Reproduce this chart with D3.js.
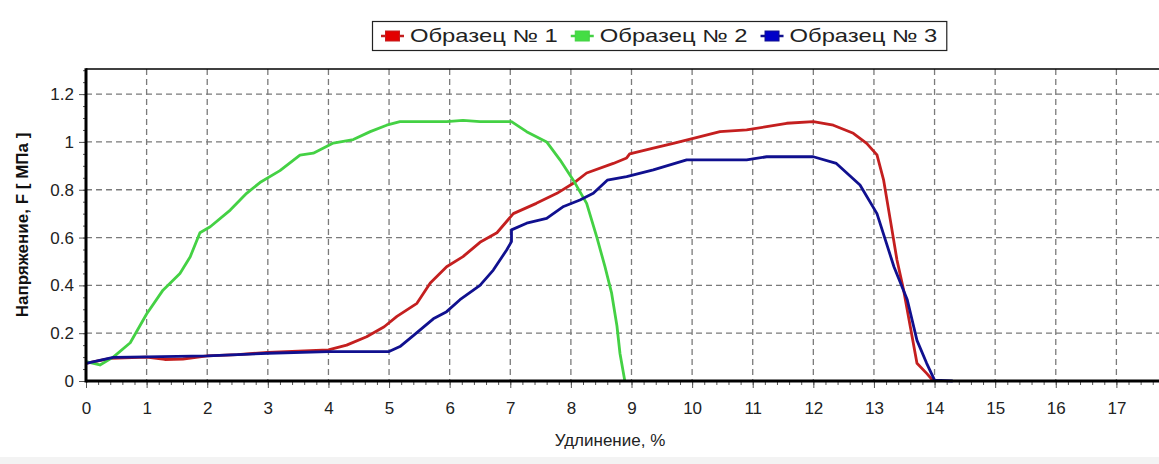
<!DOCTYPE html>
<meta charset="utf-8">
<style>
body { margin: 0; background: #fff; }
text { font-family: "Liberation Sans", Arial, sans-serif; }
.grid line { stroke: #7a7a7a; stroke-width: 1.3; stroke-dasharray: 6,4; }
.series { fill: none; stroke-width: 2.8; stroke-linejoin: round; }
</style>
<svg width="1159" height="464"></svg>
<script src="https://cdn.jsdelivr.net/npm/d3@7"></script>
<script>

var names = ["Образец № 1", "Образец № 2", "Образец № 3"];
var lineColors = ["#c41f1f", "#44d144", "#10108f"];
var markColors = ["#e30000", "#44dd44", "#0000c8"];

var xTicks = d3.range(0, 18);
var yTicks = [0, 0.2, 0.4, 0.6, 0.8, 1, 1.2];

// [удлинение %, напряжение МПа]
var sample1 = [[0,0.074],[0.4,0.095],[1,0.1],[1.3,0.09],[1.6,0.092],[2,0.105],[2.5,0.11],[3,0.12],[3.5,0.125],[4,0.13],
  [4.3,0.15],[4.63,0.185],[4.92,0.227],[5.13,0.27],[5.46,0.325],[5.68,0.41],[5.95,0.478],[6.22,0.52],[6.5,0.58],
  [6.78,0.62],[7.05,0.70],[7.43,0.743],[7.77,0.785],[8.04,0.827],[8.26,0.87],[8.7,0.91],[8.92,0.933],[8.97,0.95],
  [9.36,0.974],[9.69,0.994],[10.02,1.015],[10.46,1.043],[10.9,1.05],[11.23,1.064],[11.56,1.078],[12.0,1.085],
  [12.33,1.07],[12.66,1.036],[12.88,0.994],[13.05,0.946],[13.16,0.84],[13.27,0.674],[13.38,0.506],[13.49,0.38],
  [13.6,0.227],[13.71,0.074],[13.87,0.032],[13.98,0]];

var sample2 = [[0,0.081],[0.23,0.067],[0.45,0.10],[0.73,0.16],[1.0,0.28],[1.27,0.38],[1.55,0.45],[1.72,0.52],[1.88,0.62],
  [2.05,0.645],[2.38,0.715],[2.65,0.785],[2.87,0.83],[3.2,0.88],[3.53,0.945],[3.75,0.953],[4.08,0.995],[4.41,1.01],
  [4.69,1.043],[4.96,1.07],[5.18,1.085],[5.95,1.085],[6.22,1.09],[6.5,1.085],[7.02,1.085],[7.27,1.043],[7.6,1.0],
  [7.82,0.925],[8.04,0.84],[8.26,0.743],[8.43,0.60],[8.56,0.48],[8.67,0.37],[8.76,0.23],[8.81,0.115],[8.89,0]];

var sample3 = [[0,0.074],[0.45,0.099],[0.73,0.1],[1.5,0.103],[2,0.105],[3,0.116],[4,0.123],[5,0.123],[5.18,0.144],
  [5.4,0.19],[5.73,0.26],[5.95,0.29],[6.17,0.34],[6.5,0.40],[6.72,0.464],[6.94,0.548],[7.02,0.583],[7.02,0.632],
  [7.27,0.66],[7.6,0.68],[7.88,0.73],[8.15,0.757],[8.37,0.785],[8.6,0.84],[8.92,0.855],[9.36,0.883],[9.91,0.925],
  [10.9,0.925],[11.23,0.938],[12.0,0.938],[12.38,0.91],[12.77,0.82],[13.05,0.70],[13.33,0.478],[13.55,0.34],
  [13.71,0.17],[13.87,0.074],[14.0,0.004],[14.3,0]];

var series = [sample1, sample2, sample3];

var svg = d3.select("svg");

var pLeft = 86, pTop = 69, pBottom = 381, pRight = 1177;

var x = d3.scaleLinear().domain([0, 18]).range([pLeft, pRight]);
var y = d3.scaleLinear().domain([0, 1.305]).range([pBottom, pTop]);

var fontFamily = "'Liberation Sans', Arial, sans-serif";

// faint strip at the bottom of the window
svg.append("rect").attr("x", 0).attr("y", 457).attr("width", 1159).attr("height", 7).attr("fill", "#f3f3f3");

// grid
var grid = svg.append("g").attr("class", "grid");
grid.selectAll(".v").data(xTicks.slice(1)).enter().append("line")
    .attr("x1", function(d) { return x(d); }).attr("x2", function(d) { return x(d); })
    .attr("y1", pTop).attr("y2", pBottom);
grid.selectAll(".h").data(yTicks.slice(1)).enter().append("line")
    .attr("x1", pLeft).attr("x2", pRight)
    .attr("y1", function(d) { return y(d); }).attr("y2", function(d) { return y(d); });

// top border
svg.append("line").attr("x1", pLeft).attr("x2", pRight).attr("y1", pTop).attr("y2", pTop)
    .attr("stroke", "#000").attr("stroke-width", 1.5);

// curves
var line = d3.line().x(function(d) { return x(d[0]); }).y(function(d) { return y(d[1]); });
svg.selectAll(".series").data(series).enter().append("path")
    .attr("class", "series")
    .attr("stroke", function(d, i) { return lineColors[i]; })
    .attr("d", line);

// axes: minor ticks first, then major with labels
svg.append("g").attr("transform", "translate(0," + pBottom + ")")
    .call(d3.axisBottom(x).tickValues(d3.range(0, 18.01, 0.2)).tickSize(4).tickFormat(""))
    .call(function(g) { g.select(".domain").remove(); g.selectAll("line").attr("stroke", "#555"); });

svg.append("g").attr("transform", "translate(0," + pBottom + ")")
    .call(d3.axisBottom(x).tickValues(xTicks).tickSize(7).tickPadding(14).tickFormat(d3.format("d")))
    .call(function(g) {
      g.select(".domain").remove();
      g.selectAll("line").attr("stroke", "#555");
      g.selectAll("text").attr("font-size", 17).attr("fill", "#222").attr("font-family", fontFamily);
    });

svg.append("g").attr("transform", "translate(" + pLeft + ",0)")
    .call(d3.axisLeft(y).tickValues(d3.range(0, 1.301, 0.05)).tickSize(3).tickFormat(""))
    .call(function(g) { g.select(".domain").remove(); g.selectAll("line").attr("stroke", "#555"); });

svg.append("g").attr("transform", "translate(" + pLeft + ",0)")
    .call(d3.axisLeft(y).tickValues(yTicks).tickSize(7).tickPadding(5).tickFormat(function(d) { return String(+d.toFixed(1)); }))
    .call(function(g) {
      g.select(".domain").remove();
      g.selectAll("line").attr("stroke", "#555");
      g.selectAll("text").attr("font-size", 17).attr("fill", "#222").attr("font-family", fontFamily);
    });

// thick axis lines
svg.append("line").attr("x1", pLeft).attr("x2", pRight).attr("y1", pBottom).attr("y2", pBottom)
    .attr("stroke", "#000").attr("stroke-width", 3);
svg.append("line").attr("x1", pLeft).attr("x2", pLeft).attr("y1", pTop - 0.75).attr("y2", pBottom + 1.5)
    .attr("stroke", "#000").attr("stroke-width", 3);

// axis titles
svg.append("text")
    .attr("x", 610).attr("y", 446)
    .attr("text-anchor", "middle").attr("font-size", 17).attr("fill", "#222")
    .text("Удлинение, %");

svg.append("text")
    .attr("transform", "translate(28," + ((pTop + pBottom) / 2) + ") rotate(-90)")
    .attr("text-anchor", "middle").attr("font-size", 17).attr("font-weight", "bold").attr("fill", "#111")
    .text("Напряжение, F [  МПа ]");

// legend (the source font is wider than Arial, so stretch it a bit)
var legend = svg.append("g");
var lx = 381, ly = 36, stretch = 1.36;
names.forEach(function(n, i) {
  var g = legend.append("g").attr("transform", "translate(" + lx + "," + ly + ")");
  g.append("line").attr("x1", 0).attr("x2", 23).attr("stroke", lineColors[i]).attr("stroke-width", 2.5);
  g.append("rect").attr("x", 4.5).attr("y", -5).attr("width", 14).attr("height", 10)
      .attr("fill", markColors[i]).attr("stroke", lineColors[i]).attr("stroke-width", 1);
  var t = g.append("text").attr("transform", "translate(29,6) scale(" + stretch + ",1)")
      .attr("font-size", 17.5).attr("fill", "#222").text(n);
  lx += 29 + t.node().getComputedTextLength() * stretch + 13;
});
legend.insert("rect", ":first-child")
    .attr("x", 372.5).attr("y", 21.5).attr("width", lx - 376).attr("height", 29)
    .attr("fill", "#fff").attr("stroke", "#222").attr("stroke-width", 1.2);

</script>
